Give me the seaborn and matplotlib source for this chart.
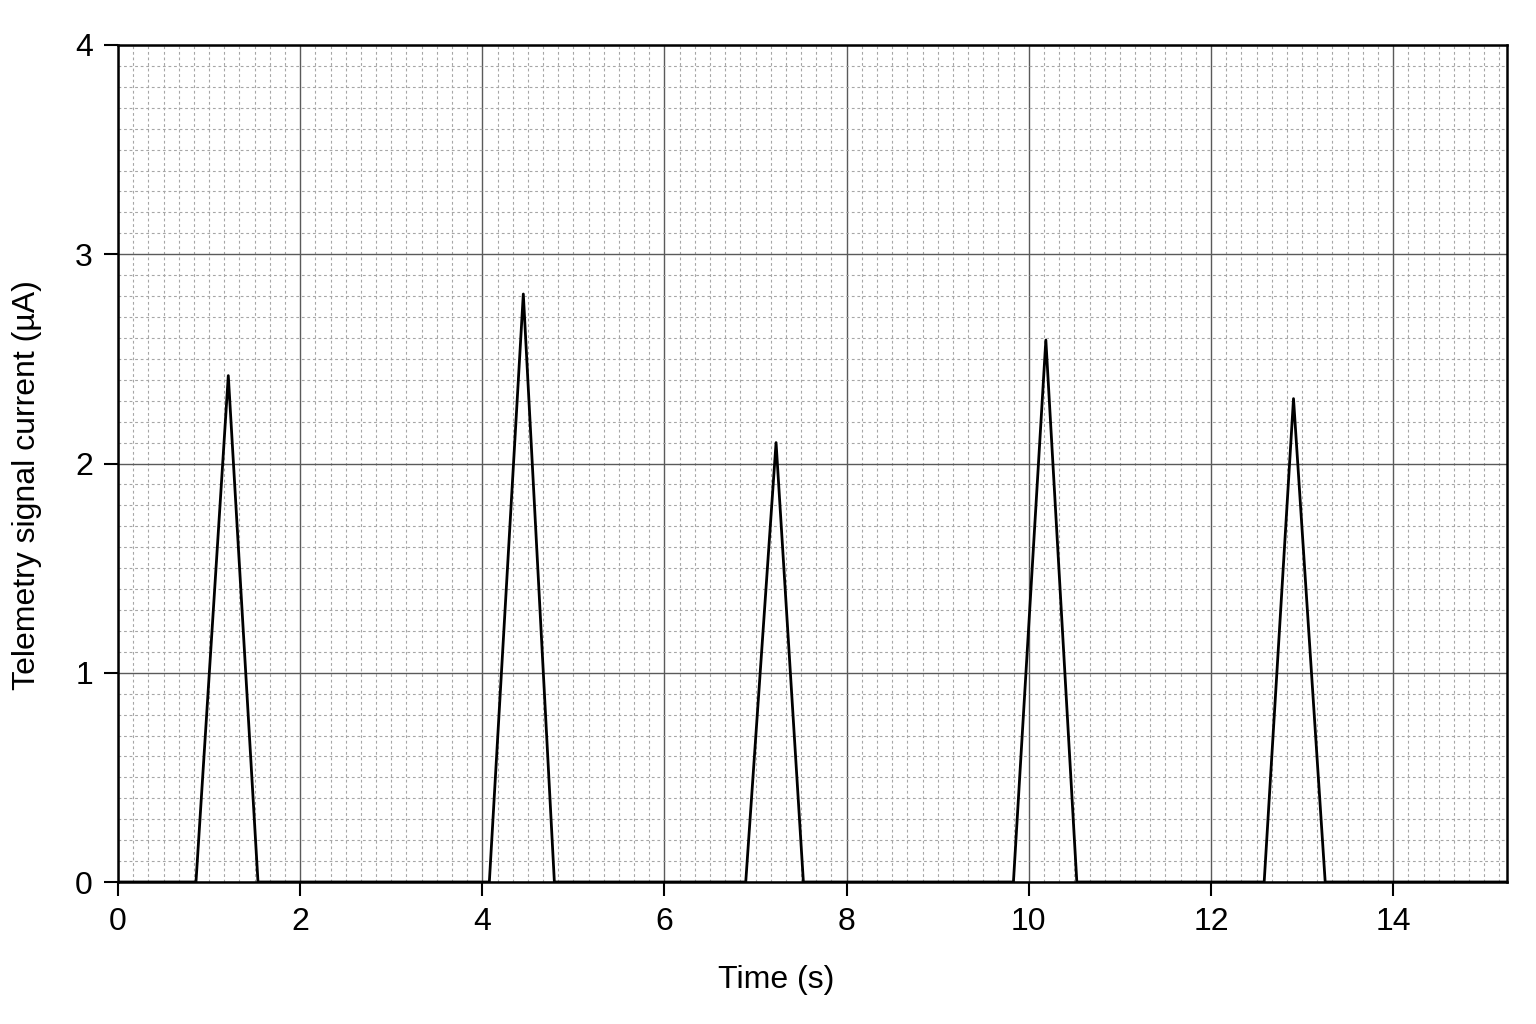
import numpy as np
import pandas as pd
import matplotlib
matplotlib.use("Agg")
import matplotlib.pyplot as plt
from matplotlib.ticker import MultipleLocator
import seaborn as sns

# Pulse data (time in s, current in uA)
pulse_start = [0.856, 4.077, 6.892, 9.831, 12.584]
pulse_peak_t = [1.211, 4.450, 7.225, 10.187, 12.906]
pulse_end = [1.537, 4.791, 7.525, 10.527, 13.254]
pulse_height = [2.42, 2.81, 2.10, 2.59, 2.31]
t_first = 0.0
t_last = 15.25

xticks = [0, 2, 4, 6, 8, 10, 12, 14]
yticks = [0, 1, 2, 3, 4]

# Build the trace from the read vertices
times = [t_first]
values = [0.0]
for s, p, e, h in zip(pulse_start, pulse_peak_t, pulse_end, pulse_height):
    times += [s, p, e]
    values += [0.0, h, 0.0]
times.append(t_last)
values.append(0.0)
df = pd.DataFrame({"Time (s)": times, "Current": values})

sns.set_theme(style="white")
plt.rcParams["font.family"] = ["Liberation Sans", "DejaVu Sans"]

fig = plt.figure(figsize=(15.36, 10.24), dpi=100)
ax = fig.add_axes([118 / 1536, 1 - 882 / 1024, (1507 - 118) / 1536, (882 - 45) / 1024])

sns.lineplot(data=df, x="Time (s)", y="Current", ax=ax, color="black",
             linewidth=2.0, estimator=None, sort=False, zorder=5)

ax.set_xlim(0, t_last)
ax.set_ylim(0, 4)
ax.set_xticks(xticks)
ax.set_yticks(yticks)
ax.xaxis.set_minor_locator(MultipleLocator(1 / 6))
ax.yaxis.set_minor_locator(MultipleLocator(0.1))

ax.grid(which="major", color="#5a5a5a", linewidth=1.0, linestyle="-")
ax.grid(which="minor", color="#a6a6a6", linewidth=0.8, linestyle=(0, (2.5, 2.5)))
ax.set_axisbelow(True)

for sp in ax.spines.values():
    sp.set_color("black")
    sp.set_linewidth(1.8)

ax.tick_params(axis="both", which="major", direction="out", length=10, width=1.5,
               color="black", labelsize=23, labelcolor="black", pad=8,
               bottom=True, left=True)
ax.tick_params(axis="both", which="minor", length=0)

ax.set_xlabel("Time (s)", fontsize=23, labelpad=20, color="black")
ax.set_ylabel("Telemetry signal current (µA)", fontsize=23, labelpad=24, color="black")
ax.xaxis.label.set_x(0.474)
ax.yaxis.label.set_y(0.474)

fig.savefig("out.png", dpi=100, facecolor="white")
